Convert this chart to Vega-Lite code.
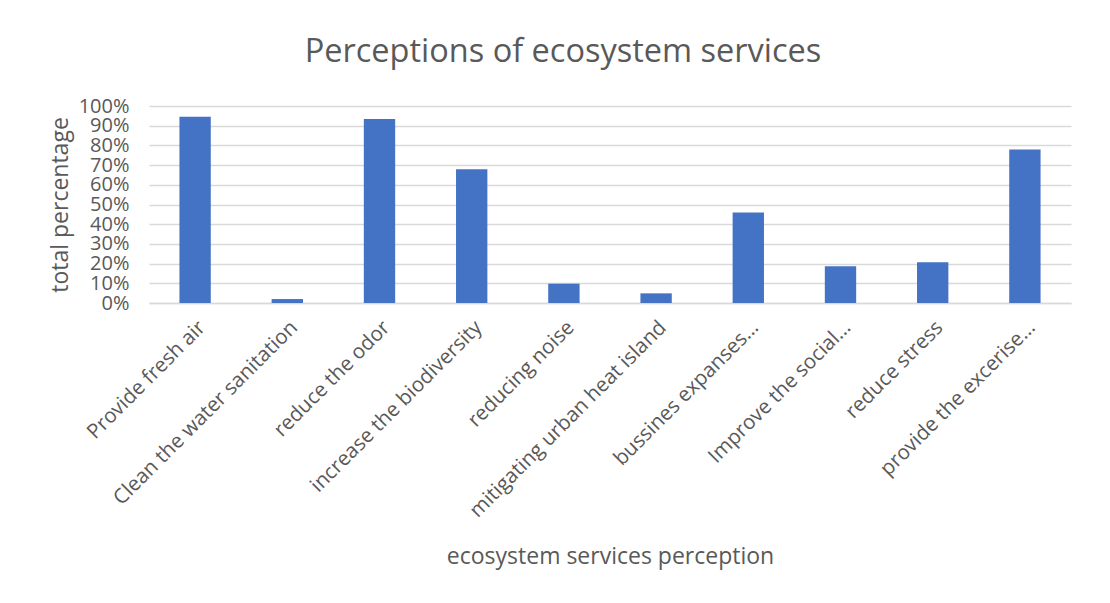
{
  "$schema": "https://vega.github.io/schema/vega-lite/v6.json",
  "autosize": "none",
  "width": 922,
  "height": 197,
  "padding": {"left": 149, "top": 106, "right": 39, "bottom": 300},
  "background": "white",
  "config": {"font": "Open Sans", "view": {"stroke": null}},
  "title": {
    "text": "Perceptions of ecosystem services",
    "fontSize": 32.5,
    "font": "Open Sans",
    "fontWeight": "normal",
    "color": "#595959",
    "anchor": "middle",
    "dx": -47,
    "offset": 28
  },
  "data": {
    "values": [
      {"service": "Provide fresh air", "pct": 0.945},
      {"service": "Clean the water sanitation", "pct": 0.02},
      {"service": "reduce the odor", "pct": 0.934},
      {"service": "increase the biodiversity", "pct": 0.679},
      {"service": "reducing noise", "pct": 0.098},
      {"service": "mitigating urban heat island", "pct": 0.049},
      {"service": "bussines expanses…", "pct": 0.459},
      {"service": "Improve the social…", "pct": 0.186},
      {"service": "reduce stress", "pct": 0.207},
      {"service": "provide the excerise…", "pct": 0.779}
    ]
  },
  "mark": {"type": "bar", "color": "#4472C4"},
  "encoding": {
    "x": {
      "field": "service",
      "type": "nominal",
      "sort": null,
      "scale": {"paddingInner": 0.66, "paddingOuter": 0.33},
      "axis": {
        "title": "ecosystem services perception",
        "titleFontSize": 23,
        "titleFontWeight": "normal",
        "titleColor": "#595959",
        "titlePadding": 42,
        "labelAngle": -45,
        "labelAlign": "right",
        "labelBaseline": "top",
        "labelFontSize": 20.5,
        "labelColor": "#595959",
        "labelPadding": 14,
        "labelLimit": 400,
        "ticks": false,
        "domainColor": "#d9d9d9",
        "domainWidth": 1.5
      }
    },
    "y": {
      "field": "pct",
      "type": "quantitative",
      "scale": {"domain": [0, 1]},
      "axis": {
        "title": "total percentage",
        "titleFontSize": 23,
        "titleFontWeight": "normal",
        "titleColor": "#595959",
        "titlePadding": 6,
        "format": ".0%",
        "values": [0, 0.1, 0.2, 0.3, 0.4, 0.5, 0.6, 0.7, 0.8, 0.9, 1],
        "labelFontSize": 20,
        "labelColor": "#595959",
        "labelPadding": 20,
        "labelOverlap": false,
        "ticks": false,
        "domain": false,
        "gridColor": "#d9d9d9",
        "gridWidth": 1.5
      }
    }
  }
}
